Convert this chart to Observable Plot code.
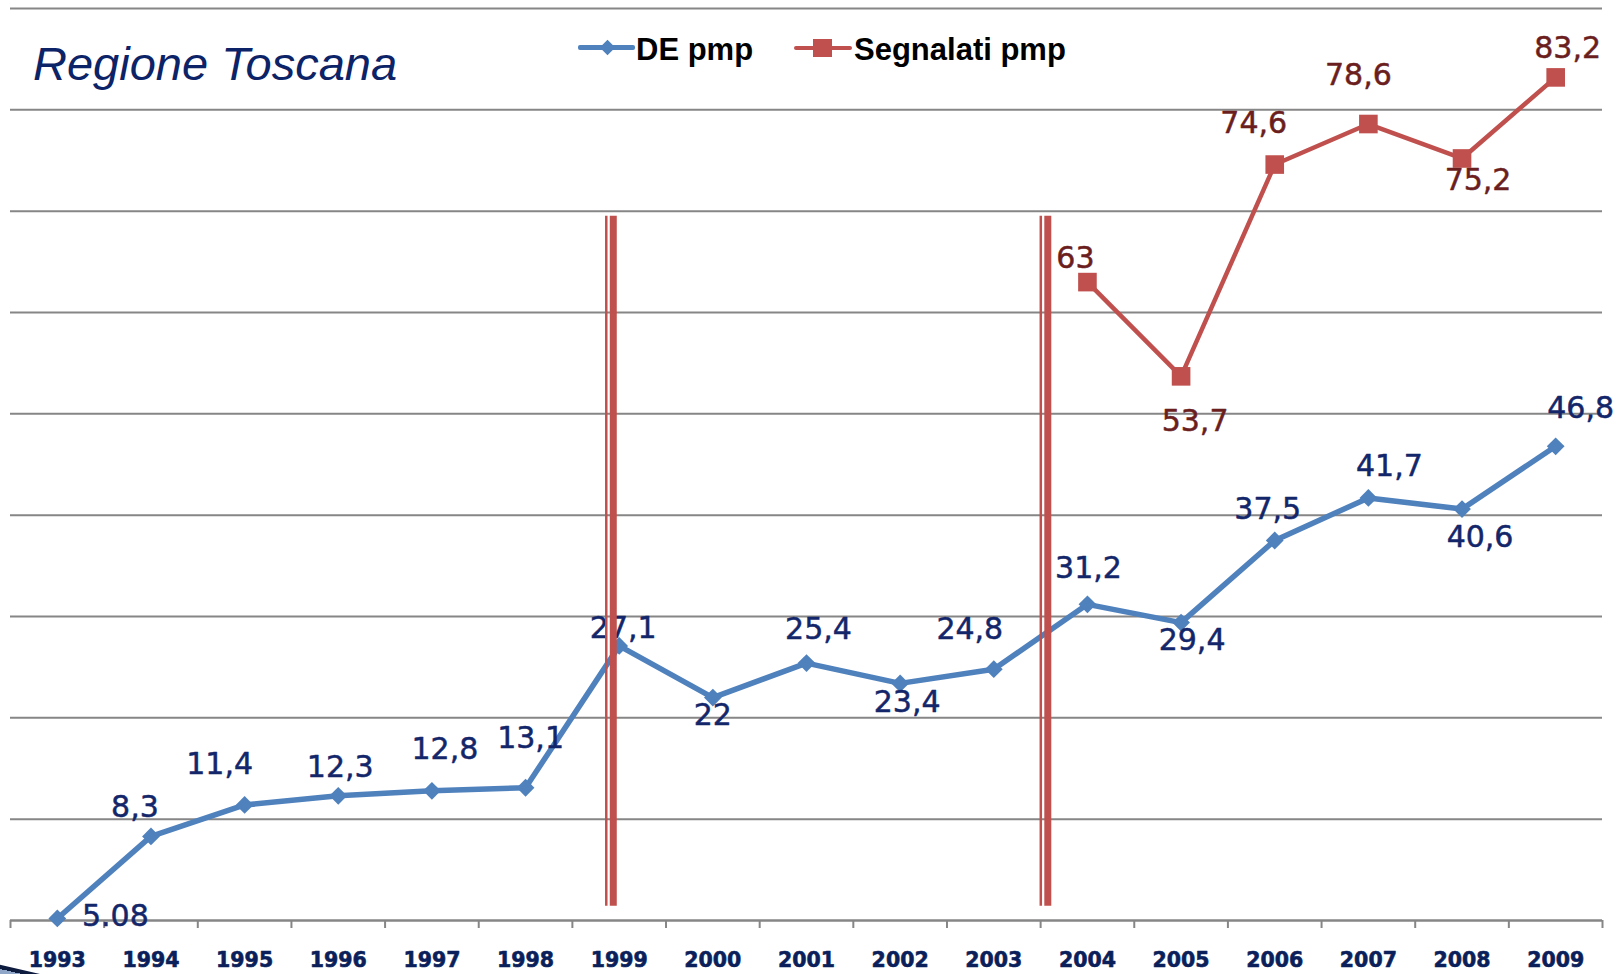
<!DOCTYPE html>
<html>
<head>
<meta charset="utf-8">
<script src="https://cdn.jsdelivr.net/npm/d3@7"></script>
<script src="https://cdn.jsdelivr.net/npm/@observablehq/plot@0.6"></script>
<style>
  body { margin: 0; background: #ffffff; }
  #wrap { position: relative; width: 1623px; height: 974px; overflow: hidden; background: #fff; }
  #chart { position: absolute; left: 0; top: 0; }
  #title { position: absolute; left: 33px; top: 40px; font: italic 47px "Liberation Sans", Arial, sans-serif; line-height: 1; color: #0c2367; white-space: nowrap; }
  .lg-text { position: absolute; top: 34px; font: bold 31px "Liberation Sans", Arial, sans-serif; line-height: 1; color: #000; white-space: nowrap; }
  .lg-line { position: absolute; height: 5px; border-radius: 2px; }
  #lg-diamond { position: absolute; left: 601.5px; top: 42px; width: 11px; height: 11px; background: #4f81bd; transform: rotate(45deg); }
  #lg-square { position: absolute; left: 813px; top: 38.5px; width: 18.5px; height: 18.5px; background: #c0504d; }
  #swoosh { position: absolute; left: -12px; top: 962px; width: 62px; height: 9px; background: linear-gradient(#0d1b3e 0 45%, #8fa6c8 45% 100%); transform: rotate(13deg); transform-origin: left top; border-radius: 0 6px 6px 0; }
</style>
</head>
<body>
<div id="wrap">
  <div id="chart"></div>
  <div id="title">Regione Toscana</div>
  <div class="lg-line" style="left:578px; top:45px; width:57px; background:#4f81bd;"></div>
  <div id="lg-diamond"></div>
  <div class="lg-text" style="left:636px;">DE pmp</div>
  <div class="lg-line" style="left:794px; top:45.5px; width:58px; height:4.5px; background:#c0504d;"></div>
  <div id="lg-square"></div>
  <div class="lg-text" style="left:854px;">Segnalati pmp</div>
  <div id="swoosh"></div>
</div>
<script>
// ---- data ----
const years = [1993, 1994, 1995, 1996, 1997, 1998, 1999, 2000, 2001, 2002, 2003, 2004, 2005, 2006, 2007, 2008, 2009];
// DE pmp (1993 point is drawn at the baseline in the original)
const deValues = [0.2, 8.3, 11.4, 12.3, 12.8, 13.1, 27.1, 22, 25.4, 23.4, 24.8, 31.2, 29.4, 37.5, 41.7, 40.6, 46.8];
const deLabels = ["5.08", "8,3", "11,4", "12,3", "12,8", "13,1", "27,1", "22", "25,4", "23,4", "24,8", "31,2", "29,4", "37,5", "41,7", "40,6", "46,8"];
const segYears = [2004, 2005, 2006, 2007, 2008, 2009];
const segValues = [63, 53.7, 74.6, 78.6, 75.2, 83.2];
const segLabels = ["63", "53,7", "74,6", "78,6", "75,2", "83,2"];
const gridValues = [10, 20, 30, 40, 50, 60, 70, 80, 90];
const dividerX = [1998.91, 2003.55];
const dividerRange = [1.4, 69.5];

// ---- label placement (pixel offsets, styling) ----
const deOffsets = [[58,-2],[-16,-29],[-25,-41],[2,-28],[13,-41],[5,-49],[4,-17],[0,18],[12,-34],[7,19],[-24,-40],[1,-36],[11,18],[-7,-31],[21,-32],[18,28],[25,-38]];
const segOffsets = [[-12,-24],[14,45],[-21,-41],[-10,-49],[16,22],[12,-29]];

const de = years.map((y, i) => ({year: y, value: deValues[i], label: deLabels[i]}));
const seg = segYears.map((y, i) => ({year: y, value: segValues[i], label: segLabels[i]}));
const boundaries = years.map(y => y - 0.5).concat([years[years.length - 1] + 0.5]);
const dividers = dividerX.map(x => ({x, y1: dividerRange[0], y2: dividerRange[1]}));

const BLUE = "#4f81bd", RED = "#c0504d", GRID = "#868686";
const labelFont = {fontFamily: "DejaVu Sans", fontSize: 30, textAnchor: "middle", lineAnchor: "middle"};

const chart = Plot.plot({
  width: 1623,
  height: 974,
  marginLeft: 10,
  marginRight: 21,
  marginTop: 8,
  marginBottom: 54,
  style: {background: "transparent", overflow: "visible"},
  x: {domain: [1992.5, 2009.5]},
  y: {domain: [0, 90], axis: null},
  marks: [
    Plot.ruleY(gridValues, {stroke: GRID, strokeWidth: 2}),
    Plot.ruleY([0], {stroke: GRID, strokeWidth: 2.5}),
    Plot.axisX({ticks: boundaries, tickSize: 8, tickFormat: () => "", label: null, stroke: GRID, strokeWidth: 2}),
    Plot.text(years, {x: d => d, frameAnchor: "bottom", dy: 40, text: d => String(d), fontFamily: "DejaVu Sans", fontWeight: "bold", fontSize: 20.5, fill: "#0b1f5b", stroke: "#0b1f5b", strokeWidth: 0.6, textAnchor: "middle", lineAnchor: "middle"}),
    Plot.line(de, {x: "year", y: "value", stroke: BLUE, strokeWidth: 5.5, strokeLinejoin: "round"}),
    Plot.dot(de, {x: "year", y: "value", symbol: "diamond2", r: 8, fill: BLUE, stroke: "none"}),
    Plot.line(seg, {x: "year", y: "value", stroke: RED, strokeWidth: 4.5, strokeLinejoin: "round"}),
    Plot.dot(seg, {x: "year", y: "value", symbol: "square", r: 10.5, fill: RED, stroke: "none"}),
    ...de.map((d, i) => Plot.text([d], {x: "year", y: "value", text: "label", fill: "#13266a", stroke: "#13266a", strokeWidth: 0.5, dx: deOffsets[i][0], dy: deOffsets[i][1], ...labelFont})),
    ...seg.map((d, i) => Plot.text([d], {x: "year", y: "value", text: "label", fill: "#6b1e1e", stroke: "#6b1e1e", strokeWidth: 0.5, dx: segOffsets[i][0], dy: segOffsets[i][1], ...labelFont})),
    Plot.ruleX(dividers, {x: "x", y1: "y1", y2: "y2", stroke: RED, strokeWidth: 2.5, dx: -4.5}),
    Plot.ruleX(dividers, {x: "x", y1: "y1", y2: "y2", stroke: RED, strokeWidth: 7, dx: 2.5})
  ]
});
document.getElementById("chart").appendChild(chart);
</script>
</body>
</html>
